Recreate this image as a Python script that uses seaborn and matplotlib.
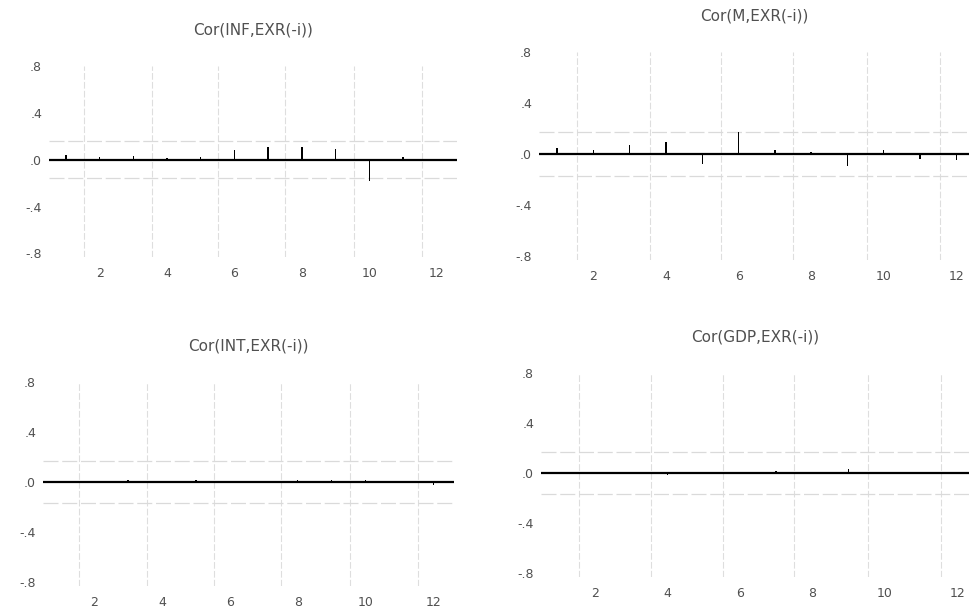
import matplotlib
matplotlib.use("Agg")
import matplotlib.pyplot as plt
import seaborn as sns
import numpy as np
import pandas as pd

# ---- data ----
lags = list(range(1, 13))
titles = ["Cor(INF,EXR(-i))", "Cor(M,EXR(-i))", "Cor(INT,EXR(-i))", "Cor(GDP,EXR(-i))"]
cor_inf = [0.037, 0.025, 0.035, 0.015, 0.025, 0.085, 0.11, 0.11, 0.09, -0.185, 0.025, 0.005]
cor_m = [0.047, 0.03, 0.068, 0.094, -0.075, 0.17, 0.03, 0.02, -0.096, 0.034, -0.04, -0.05]
cor_int = [0.01, 0.01, 0.015, 0.0, 0.015, 0.0, 0.01, 0.02, 0.02, 0.02, 0.0, -0.02]
cor_gdp = [0.01, 0.01, -0.01, -0.015, 0.0, 0.0, 0.015, 0.01, 0.03, -0.01, -0.01, -0.01]
bands = [0.16, 0.17, 0.17, 0.165]
ytick_vals = [0.8, 0.4, 0.0, -0.4, -0.8]
ytick_labels = [".8", ".4", ".0", "-.4", "-.8"]
xtick_vals = [2, 4, 6, 8, 10, 12]
xtick_labels = ["2", "4", "6", "8", "10", "12"]
grid_x = [1.55, 3.55, 5.52, 7.5, 9.55, 11.55]

series = [cor_inf, cor_m, cor_int, cor_gdp]

sns.set_style("white")
plt.rcParams['font.family'] = ['DejaVu Sans']

W, H = 969, 613
fig = plt.figure(figsize=(W / 100, H / 100), dpi=100)

# axes boxes in pixels: left, top, right, bottom ; xlim
boxes = [
    (49, 66, 457, 257, (0.5, 12.6)),
    (539, 52, 969, 260, (0.5, 12.35)),
    (43, 382, 454, 586, (0.5, 12.6)),
    (541, 373, 969, 577, (0.5, 12.33)),
]

text_color = "#505050"
for i, (l, t, r, b, xl) in enumerate(boxes):
    ax = fig.add_axes([l / W, (H - b) / H, (r - l) / W, (b - t) / H])
    df = pd.DataFrame({"lag": lags, "cor": series[i]})
    for gx in grid_x:
        ax.axvline(gx, color="#dedede", lw=0.8, ls=(0, (6, 2)), zorder=0)
    ax.axhline(bands[i], color="#dadada", lw=0.9, ls=(0, (12, 3)), zorder=0)
    ax.axhline(-bands[i], color="#dadada", lw=0.9, ls=(0, (12, 3)), zorder=0)
    sns.barplot(data=df, x="lag", y="cor", native_scale=True, width=0.04,
                color="black", errorbar=None, linewidth=0, ax=ax, zorder=3)
    ax.axhline(0, color="black", lw=1.6, zorder=4)
    ax.set_xlim(*xl)
    ax.set_ylim(-0.83, 0.8)
    ax.set_xticks(xtick_vals)
    ax.set_xticklabels(xtick_labels)
    ax.set_yticks(ytick_vals)
    ax.set_yticklabels(ytick_labels)
    ax.tick_params(axis="both", length=0, labelsize=9, colors=text_color)
    ax.tick_params(axis="x", pad=7)
    ax.tick_params(axis="y", pad=5)
    ax.set_xlabel("")
    ax.set_ylabel("")
    for s in ax.spines.values():
        s.set_visible(False)
    ax.set_title(titles[i], fontsize=11, color=text_color, pad=23)

fig.savefig("out.png", dpi=100)
